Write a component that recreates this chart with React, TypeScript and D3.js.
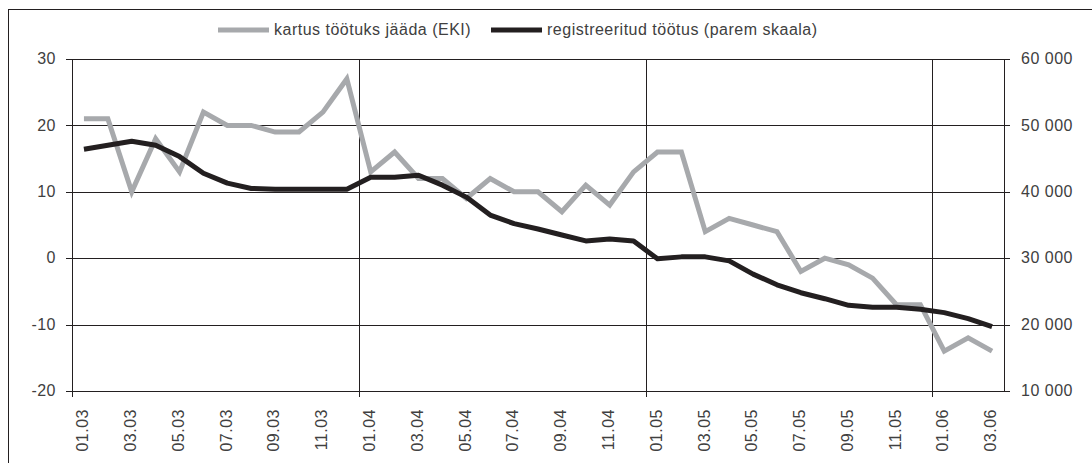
import * as d3 from "d3";

const months = [
  "01.03", "02.03", "03.03", "04.03", "05.03", "06.03", "07.03", "08.03", "09.03", "10.03", "11.03", "12.03",
  "01.04", "02.04", "03.04", "04.04", "05.04", "06.04", "07.04", "08.04", "09.04", "10.04", "11.04", "12.04",
  "01.05", "02.05", "03.05", "04.05", "05.05", "06.05", "07.05", "08.05", "09.05", "10.05", "11.05", "12.05",
  "01.06", "02.06", "03.06",
];

// kartus töötuks jääda (EKI), left scale
const fear = [
  21, 21, 10, 18, 13, 22, 20, 20, 19, 19, 22, 27,
  13, 16, 12, 12, 9, 12, 10, 10, 7, 11, 8, 13,
  16, 16, 4, 6, 5, 4, -2, 0, -1, -3, -7, -7,
  -14, -12, -14,
];

// registreeritud töötus, right scale
const registered = [
  46400, 47000, 47600, 47000, 45300, 42800, 41300, 40500, 40400, 40400, 40400, 40400,
  42200, 42200, 42500, 41000, 39200, 36500, 35200, 34400, 33500, 32600, 32900, 32600,
  29900, 30200, 30200, 29600, 27600, 26000, 24800, 23900, 22900, 22600, 22600, 22300,
  21800, 20900, 19700,
];

const leftTicks = [-20, -10, 0, 10, 20, 30];
const rightTicks = [10000, 20000, 30000, 40000, 50000, 60000];

const legendItems = [
  { label: "kartus töötuks jääda (EKI)", color: "#a7a9ac" },
  { label: "registreeritud töötus (parem skaala)", color: "#231f20" },
];

export default function App() {
  const width = 1092;
  const height = 463;
  const left = 72;
  const right = 1004;
  const top = 59;
  const bottom = 391;
  const ink = "#231f20";
  const textColor = "#404040";
  const font = "'Liberation Sans', Arial, sans-serif";

  const x = d3.scaleLinear().domain([0, months.length]).range([left, right]);
  const yL = d3.scaleLinear().domain([-20, 30]).range([bottom, top]);
  const yR = d3.scaleLinear().domain([10000, 60000]).range([bottom, top]);

  const fearLine = d3
    .line<number>()
    .x((_, i) => x(i + 0.5))
    .y((d) => yL(d));
  const regLine = d3
    .line<number>()
    .x((_, i) => x(i + 0.5))
    .y((d) => yR(d));

  const yearStarts = months
    .map((m, i) => (m.startsWith("01.") ? i : -1))
    .filter((i) => i >= 0);
  const fmt = (v: number) => d3.format(",")(v).replace(/,/g, " ");

  const legendX = [218, 491];

  return (
    <svg
      width={width}
      height={height}
      style={{ position: "absolute", left: 0, top: 0, background: "#fff" }}
      fontFamily={font}
      letterSpacing={0.5}
    >
      <rect x={8.5} y={9.5} width={1200} height={600} fill="#fff" stroke={ink} />

      {/* legend */}
      {legendItems.map((item, i) => (
        <g key={item.label}>
          <line
            x1={legendX[i]}
            x2={legendX[i] + 51}
            y1={30}
            y2={30}
            stroke={item.color}
            strokeWidth={5}
          />
          <text
            x={legendX[i] + 56}
            y={31}
            dominantBaseline="middle"
            fontSize={16}
            fill={textColor}
          >
            {item.label}
          </text>
        </g>
      ))}

      {/* horizontal gridlines */}
      {leftTicks.map((t) => (
        <line
          key={t}
          x1={left - 6}
          x2={right}
          y1={Math.round(yL(t)) + 0.5}
          y2={Math.round(yL(t)) + 0.5}
          stroke={ink}
          strokeWidth={1}
        />
      ))}
      {rightTicks.map((t) => (
        <line
          key={t}
          x1={right}
          x2={right + 6}
          y1={Math.round(yR(t)) + 0.5}
          y2={Math.round(yR(t)) + 0.5}
          stroke={ink}
        />
      ))}

      {/* vertical gridlines at January */}
      {yearStarts.map((i) => (
        <line
          key={i}
          x1={Math.round(x(i)) + 0.5}
          x2={Math.round(x(i)) + 0.5}
          y1={top}
          y2={bottom + 6}
          stroke={ink}
        />
      ))}
      <line x1={left + 0.5} x2={left + 0.5} y1={top} y2={bottom + 6} stroke={ink} />
      <line x1={right + 0.5} x2={right + 0.5} y1={top} y2={bottom} stroke={ink} />
      <line x1={left} x2={right + 6} y1={bottom + 0.5} y2={bottom + 0.5} stroke={ink} />

      {/* left axis labels */}
      {leftTicks.map((t) => (
        <text
          key={t}
          x={56}
          y={yL(t) + 1}
          textAnchor="end"
          dominantBaseline="middle"
          fontSize={16}
          fill={textColor}
        >
          {t}
        </text>
      ))}
      {/* right axis labels */}
      {rightTicks.map((t) => (
        <text
          key={t}
          x={1021}
          y={yR(t) + 1}
          dominantBaseline="middle"
          fontSize={16}
          fill={textColor}
        >
          {fmt(t)}
        </text>
      ))}
      {/* x labels */}
      {months.map((m, i) =>
        i % 2 === 0 ? (
          <text
            key={m}
            transform={`translate(${x(i + 0.5)},409) rotate(-90)`}
            textAnchor="end"
            dominantBaseline="middle"
            fontSize={16}
            fill={textColor}
          >
            {m}
          </text>
        ) : null
      )}

      {/* series */}
      <path
        d={fearLine(fear) ?? ""}
        fill="none"
        stroke="#a7a9ac"
        strokeWidth={5}
        strokeLinejoin="miter"
      />
      <path
        d={regLine(registered) ?? ""}
        fill="none"
        stroke={ink}
        strokeWidth={5}
        strokeLinejoin="round"
      />
    </svg>
  );
}
